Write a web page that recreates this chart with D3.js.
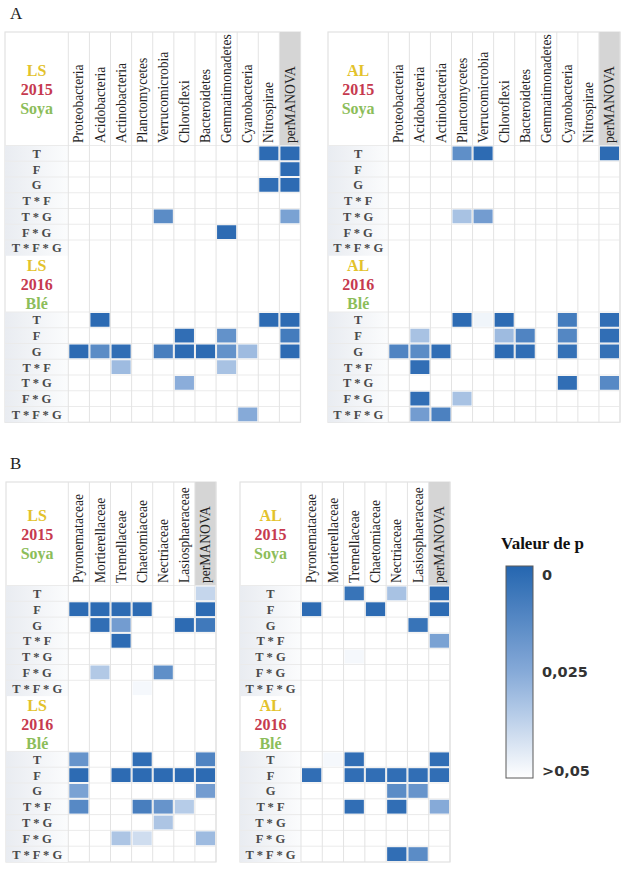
<!DOCTYPE html>
<html><head><meta charset="utf-8">
<script src="https://cdn.jsdelivr.net/npm/d3@7"></script>
<style>body{margin:0;background:#fff}</style>
</head><body>
<svg id="c" width="635" height="872"></svg>
<script>
// ---------- DATA ----------
const bacteria = ["Proteobacteria","Acidobacteria","Actinobacteria","Planctomycetes","Verrucomicrobia","Chloroflexi","Bacteroidetes","Gemmatimonadetes","Cyanobacteria","Nitrospirae","perMANOVA"];
const fungi = ["Pyronemataceae","Mortierellaceae","Tremellaceae","Chaetomiaceae","Nectriaceae","Lasiosphaeraceae","perMANOVA"];
const effects = ["T","F","G","T * F","T * G","F * G","T * F * G"];
const years = ["2015","2016"];
const crops = ["Soya","Blé"];
const n = null; // p > 0.05

// p-values (rows = effects, columns = taxa + perMANOVA)
const bactLS2015 = [
  [n,n,n,n,n,n,n,n,n,0.002,0.002],
  [n,n,n,n,n,n,n,n,n,n,0.002],
  [n,n,n,n,n,n,n,n,n,0.003,0.002],
  [n,n,n,n,n,n,n,n,n,n,n],
  [n,n,n,n,0.014,n,n,n,n,n,0.022],
  [n,n,n,n,n,n,n,0.002,n,n,n],
  [n,n,n,n,n,n,n,n,n,n,n]];
const bactLS2016 = [
  [n,0.002,n,n,n,n,n,n,n,0.002,0.002],
  [n,n,n,n,n,0.003,n,0.016,n,n,0.008],
  [0.002,0.014,0.003,n,0.009,0.002,0.002,0.016,0.03,n,0.002],
  [n,n,0.03,n,n,n,n,0.032,n,n,n],
  [n,n,n,n,n,0.026,n,n,n,n,n],
  [n,n,n,n,n,n,n,n,n,n,n],
  [n,n,n,n,n,n,n,n,0.025,n,n]];
const bactAL2015 = [
  [n,n,n,0.015,0.002,n,n,n,n,n,0.002],
  [n,n,n,n,n,n,n,n,n,n,n],
  [n,n,n,n,n,n,n,n,n,n,n],
  [n,n,n,n,n,n,n,n,n,n,n],
  [n,n,n,0.032,0.02,n,n,n,n,n,n],
  [n,n,n,n,n,n,n,n,n,n,n],
  [n,n,n,n,n,n,n,n,n,n,n]];
const bactAL2016 = [
  [n,n,n,0.002,0.047,0.002,n,n,0.008,n,0.003],
  [n,0.032,n,n,n,0.03,0.011,n,0.012,n,0.003],
  [0.011,0.014,0.003,n,n,0.002,0.003,n,0.004,n,0.004],
  [n,0.003,n,n,n,n,n,n,n,n,n],
  [n,n,n,n,n,n,n,n,0.003,n,0.013],
  [n,0.003,n,0.032,n,n,n,n,n,n,n],
  [n,0.02,0.01,n,n,n,n,n,n,n,n]];
const fungLS2015 = [
  [n,n,n,n,n,n,0.038],
  [0.002,0.002,0.002,0.002,n,n,0.002],
  [n,0.003,0.02,n,n,0.002,0.007],
  [n,n,0.002,n,n,n,n],
  [n,n,n,n,n,n,n],
  [n,0.034,n,n,0.015,n,n],
  [n,n,n,0.048,n,n,n]];
const fungLS2016 = [
  [0.017,n,n,0.003,n,n,0.011],
  [0.002,n,0.002,0.002,0.002,0.002,0.002],
  [0.022,n,n,n,n,n,0.02],
  [0.013,n,n,0.009,0.017,0.035,n],
  [n,n,n,n,0.033,n,n],
  [n,n,0.033,0.04,n,n,0.03],
  [n,n,n,n,n,n,n]];
const fungAL2015 = [
  [n,n,0.005,n,0.032,n,0.002],
  [0.002,n,n,0.002,n,n,0.002],
  [n,n,n,n,n,0.005,n],
  [n,n,n,n,n,n,0.022],
  [n,n,0.048,n,n,n,n],
  [n,n,n,n,n,n,n],
  [n,n,n,n,n,n,n]];
const fungAL2016 = [
  [n,0.048,0.003,n,n,n,0.003],
  [0.003,n,0.003,0.003,0.003,0.003,0.003],
  [n,n,n,n,0.014,0.017,n],
  [n,n,0.003,n,0.003,n,0.025],
  [n,n,n,n,n,n,n],
  [n,n,n,n,n,n,n],
  [n,n,n,n,0.003,0.014,n]];
const legendValues = [0, 0.025, 0.05];
const legendLabels = ["0", "0,025", ">0,05"];

// ---------- DRAW ----------
const svg = d3.select("#c");
const serif = "'Liberation Serif','DejaVu Serif','Times New Roman',Times,serif";
const color = d3.scaleLinear().domain([0, 0.025, 0.05]).range(["#2566b0", "#86aad8", "#ffffff"]);
const siteCol = "#e3c22b", yearCol = "#c63a4f", cropCol = "#8cbd5a";

const defs = svg.append("defs");
const lg = defs.append("linearGradient").attr("id","rowlab").attr("x1","0").attr("x2","1");
lg.append("stop").attr("offset","0").attr("stop-color","#e9ecf1");
lg.append("stop").attr("offset","1").attr("stop-color","#fbfcfd");

svg.append("text").attr("x",10).attr("y",19).attr("font-family",serif).attr("font-size",17).attr("fill","#222").text("A");
svg.append("text").attr("x",10).attr("y",469).attr("font-family",serif).attr("font-size",17).attr("fill","#222").text("B");

function drawPanel(cfg) {
  const g = svg.append("g");
  const {x0, labelW, x1, top, h1, rowH, h2, cols, site, datasets} = cfg;
  const x = d3.scaleBand().domain(cols).range([x0 + labelW, x1]);
  const sec1Top = top, sec2Top = top + h1 + 7 * rowH;
  const sections = [
    {hTop: sec1Top, hH: h1, year: years[0], crop: crops[0], data: datasets[0]},
    {hTop: sec2Top, hH: h2, year: years[1], crop: crops[1], data: datasets[1]}
  ];
  const bottom = sec2Top + h2 + 7 * rowH;
  g.append("rect").attr("x",x0).attr("y",top).attr("width",x1-x0).attr("height",bottom-top)
    .attr("fill","#fff").attr("stroke","#e2e2e2").attr("stroke-width",1.2);
  // perMANOVA header shading
  g.append("rect").attr("x",x("perMANOVA")).attr("y",top).attr("width",x.bandwidth()).attr("height",h1).attr("fill","#d5d5d5");
  sections.forEach(s => {
    const y = d3.scaleBand().domain(effects).range([s.hTop + s.hH, s.hTop + s.hH + 7 * rowH]);
    s.y = y;
    g.append("rect").attr("x",x0).attr("y",y.range()[0]).attr("width",labelW).attr("height",7*rowH).attr("fill","url(#rowlab)");
    effects.forEach(e => {
      g.append("line").attr("x1",x0).attr("x2",x1).attr("y1",y(e)).attr("y2",y(e)).attr("stroke","#ebebeb").attr("stroke-width",1);
    });
  });
  // vertical grid
  cols.forEach(c => {
    g.append("line").attr("x1",x(c)).attr("x2",x(c)).attr("y1",top).attr("y2",bottom).attr("stroke","#e3e3e3").attr("stroke-width",1);
  });
  g.append("line").attr("x1",x1).attr("x2",x1).attr("y1",top).attr("y2",bottom).attr("stroke","#e3e3e3");
  // cells
  sections.forEach(s => {
    s.data.forEach((row, i) => row.forEach((p, j) => {
      if (p === null) return;
      g.append("rect").attr("x",x(cols[j]) + 1).attr("y",s.y(effects[i]) + 1)
        .attr("width",x.bandwidth() - 2).attr("height",s.y.bandwidth() - 2).attr("fill",color(p));
    }));
    effects.forEach(e => {
      g.append("text").attr("x",x0 + labelW/2).attr("y",s.y(e) + s.y.bandwidth()/2).attr("dy","0.36em")
        .attr("text-anchor","middle").attr("font-family",serif).attr("font-weight","bold").attr("font-size",12.5)
        .attr("fill","#4a4a4a").text(e);
    });
    const cx = x0 + labelW/2, cy = s.hTop + s.hH/2;
    [[site, siteCol, -1],[s.year, yearCol, 0],[s.crop, cropCol, 1]].forEach(([t, c, k]) => {
      g.append("text").attr("x",cx).attr("y",cy + k*19).attr("dy","0.36em").attr("text-anchor","middle")
        .attr("font-family",serif).attr("font-weight","bold").attr("font-size",16).attr("fill",c).text(t);
    });
  });
  // column headers
  cols.forEach(c => {
    const tx = x(c) + x.bandwidth()/2 + 4.6, ty = top + h1 - 2.5;
    g.append("text").attr("transform",`translate(${tx},${ty}) rotate(-90)`)
      .attr("font-family",serif).attr("font-size",13.6).attr("fill","#222").text(c);
  });
}

drawPanel({x0:5, labelW:63.3, x1:300.5, top:32, h1:113.5, rowH:15.75, h2:56.25, cols:bacteria, site:"LS", datasets:[bactLS2015, bactLS2016]});
drawPanel({x0:328, labelW:60.3, x1:620, top:32, h1:113.5, rowH:15.75, h2:56.25, cols:bacteria, site:"AL", datasets:[bactAL2015, bactAL2016]});
drawPanel({x0:6, labelW:62.3, x1:216, top:482, h1:103.5, rowH:15.8, h2:55.3, cols:fungi, site:"LS", datasets:[fungLS2015, fungLS2016]});
drawPanel({x0:240, labelW:61, x1:450, top:482, h1:103.5, rowH:15.8, h2:55.3, cols:fungi, site:"AL", datasets:[fungAL2015, fungAL2016]});

// ---------- LEGEND ----------
const lgY = d3.scaleLinear().domain([0, 0.05]).range([566, 778]);
const grad = defs.append("linearGradient").attr("id","leg").attr("x1","0").attr("x2","0").attr("y1","0").attr("y2","1");
d3.range(0, 1.0001, 0.1).forEach(t => {
  grad.append("stop").attr("offset", t).attr("stop-color", color(t * 0.05));
});
svg.append("text").attr("x",542.5).attr("y",549).attr("text-anchor","middle").attr("font-family",serif)
  .attr("font-weight","bold").attr("font-size",17).attr("fill","#111").text("Valeur de p");
svg.append("rect").attr("x",506).attr("y",lgY(0)).attr("width",27).attr("height",lgY(0.05)-lgY(0))
  .attr("fill","url(#leg)").attr("stroke","#5a5a5a").attr("stroke-width",1);
legendValues.forEach((v, i) => {
  const yy = Math.min(Math.max(lgY(v), lgY(0) + 9), lgY(0.05) - 7);
  svg.append("text").attr("x",542).attr("y",yy).attr("dy","0.36em").attr("font-family","'DejaVu Sans',Verdana,sans-serif")
    .attr("font-weight","bold").attr("font-size",14.5).attr("fill","#333").text(legendLabels[i]);
});
</script>
</body></html>
